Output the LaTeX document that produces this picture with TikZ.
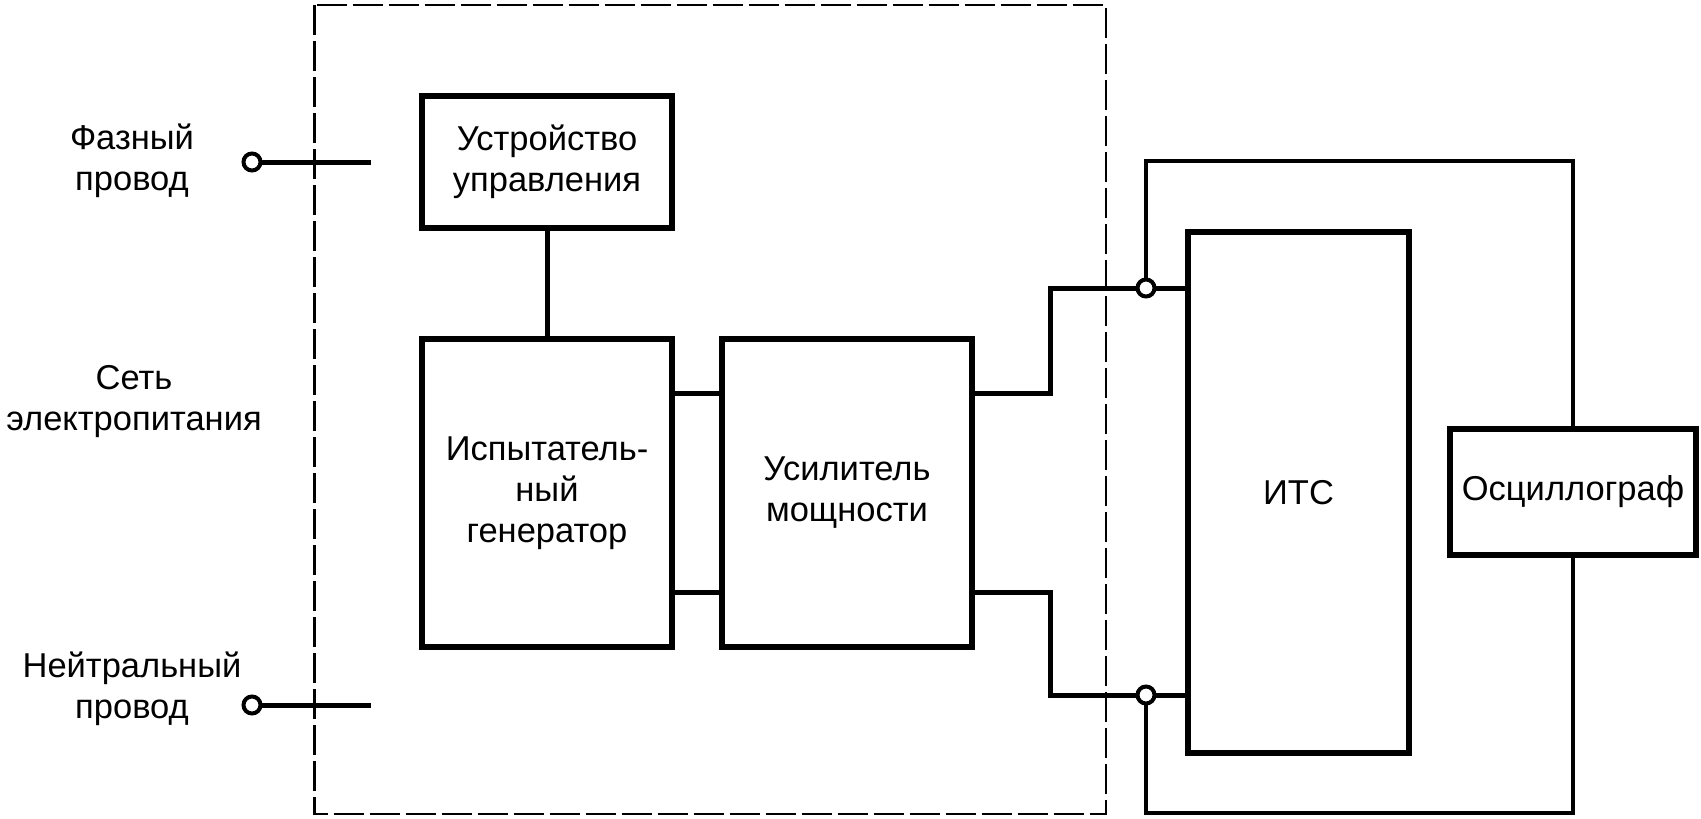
\documentclass[tikz,border=0pt]{standalone}
\usepackage{fontspec}
\setmainfont{Liberation Sans}
\begin{document}
\begin{tikzpicture}[x=1pt,y=-1pt,
  txt/.style={align=center,font=\fontsize{34.5}{41}\selectfont},
  blk/.style={draw,line width=5.2pt,inner sep=0pt,txt},
  wire/.style={line width=5pt,line join=miter},
  loopw/.style={line width=4.2pt,line join=miter},
  term/.style={circle,draw,fill=white,line width=4pt,minimum size=17pt,inner sep=0pt},
  frame/.style={line width=2.7pt,dash pattern=on 30pt off 6pt}]
\useasboundingbox (0,0) rectangle (1701,819);
% dashed enclosure
\draw[frame] (314.7,5) rectangle (1106,814);
% blocks
\node[blk,minimum width=250pt,minimum height=132pt] (uu) at (547,162) {Устройство\\управления};
\node[blk,minimum width=250pt,minimum height=308pt] (gen) at (547,493) {Испытатель-\\ный\\генератор};
\node[blk,minimum width=250pt,minimum height=308pt] (amp) at (847,493) {Усилитель\\мощности};
\node[blk,minimum width=221pt,minimum height=521pt] (its) at (1298.5,492.5) {ИТС};
\node[blk,minimum width=246pt,minimum height=126pt] (osc) at (1573,492) {Осциллограф};
% labels
\node[txt] (lphase) at (132,161) {Фазный\\провод};
\node[txt] (lnet) at (134,402) {Сеть\\электропитания};
\node[txt] (lneut) at (132,689) {Нейтральный\\провод};
% coordinates
\coordinate (ph) at (252,162);
\coordinate (phe) at (371,162);
\coordinate (ne) at (252,705);
\coordinate (nee) at (371,705);
\coordinate (y1) at (0,393);
\coordinate (y2) at (0,592);
\coordinate (xk) at (1050,0);
\coordinate (t1) at (1146,288);
\coordinate (t2) at (1146,695);
\coordinate (ytop) at (0,161);
\coordinate (ybot) at (0,813);
% wires
\draw[wire] (ph) -- (phe);
\draw[wire] (ne) -- (nee);
\draw[wire] (uu.south) -- (gen.north);
\draw[wire] (gen.east |- y1) -- (amp.west |- y1);
\draw[wire] (gen.east |- y2) -- (amp.west |- y2);
\draw[wire] (amp.east |- y1) -- (xk |- y1) -- (xk |- t1) -- (its.west |- t1);
\draw[wire] (amp.east |- y2) -- (xk |- y2) -- (xk |- t2) -- (its.west |- t2);
\draw[loopw] (t1) -- (t1 |- ytop) -- (osc.north |- ytop) -- (osc.north);
\draw[loopw] (osc.south) -- (osc.south |- ybot) -- (t2 |- ybot) -- (t2);
% terminals
\node[term] (tph) at (ph) {};
\node[term] (tne) at (ne) {};
\node[term] (tt1) at (t1) {};
\node[term] (tt2) at (t2) {};
\end{tikzpicture}
\end{document}
